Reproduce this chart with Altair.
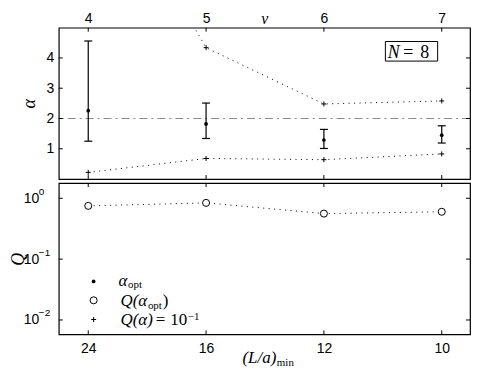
import altair as alt
import pandas as pd

# ---------------- data ----------------
nu = [4, 5, 6, 7]
L_over_a_min = [24, 16, 12, 10]
alpha_opt = [2.26, 1.82, 1.29, 1.45]
alpha_err_lo = [1.25, 1.34, 1.01, 1.19]
alpha_err_hi = [4.56, 2.51, 1.64, 1.76]
alpha_Q01_low = [0.22, 0.68, 0.64, 0.83]
alpha_Q01_high = [11.0, 4.34, 2.48, 2.58]
Q_opt = [0.75, 0.84, 0.56, 0.60]
alpha_ref = [2]
alpha_ticks = [1, 2, 3, 4]
Q_ticks = [1, 0.1, 0.01]
Q_tick_exp = ["0", "\u22121", "\u22122"]
N_value = "8"

# ---------------- styling ----------------
W, H = 413, 152
S = H / 160.0
SANS = "Liberation Sans"
SERIF = "Liberation Serif"
PLUS = "M-1,0L1,0M0,-1L0,1"
DOT = [1, 4.5]
TL = 4  # inward tick length
QPAD = 20

XS = alt.Scale(domain=[3.75, 7.24], nice=False, zero=False)
YS_A = alt.Scale(domain=[0, 5], nice=False, zero=False)
YS_Q = alt.Scale(type="log", domain=[0.0058, 1.78], nice=False)

common = dict(ticks=False, domain=False, grid=False, labelColor="black",
              labelFont=SANS, labelFontSize=14, titleColor="black")

AX_X_TOP = alt.Axis(orient="top", values=nu, format="d", labelPadding=2,
                    title="\u03bd", titleFont=SERIF, titleFontStyle="italic",
                    titleFontWeight="normal", titleFontSize=16, titleY=-4.5,
                    titleBaseline="alphabetic", **common)
label_expr = " : ".join(f"datum.value == {n} ? '{l}'" for n, l in zip(nu, L_over_a_min)) + " : ''"
AX_X_BOT = alt.Axis(orient="bottom", values=nu, labelExpr=label_expr, labelPadding=7,
                    title=None, **common)
AX_Y_A = alt.Axis(values=alpha_ticks, format="d", labelPadding=5, title="\u03b1",
                  titleFont=SERIF, titleFontStyle="italic", titleFontWeight="normal",
                  titleFontSize=18, titlePadding=8, **common)
AX_Y_Q = alt.Axis(values=Q_ticks, labelExpr="'10'", labelPadding=QPAD, title="Q",
                  titleFont=SERIF, titleFontStyle="italic", titleFontWeight="normal",
                  titleFontSize=18, titlePadding=-4, **common)

ONE = alt.Data(values=[{}])


def txt(s, x, y, size, style="normal", font=SERIF, align="left", baseline="alphabetic"):
    return alt.Chart(ONE).mark_text(text=s, font=font, fontSize=size, fontStyle=style,
                                    align=align, baseline=baseline, color="black").encode(
        x=alt.value(x), y=alt.value(y))


def xt():
    return alt.X("nu:Q", scale=XS, axis=AX_X_TOP)


def xb():
    return alt.X("nu:Q", scale=XS, axis=AX_X_BOT)


def yt(f):
    return alt.Y(f, type="quantitative", scale=YS_A, axis=AX_Y_A)


def yb(f):
    return alt.Y(f, type="quantitative", scale=YS_Q, axis=AX_Y_Q)


# ---------------- top panel ----------------
df_top = pd.DataFrame({"nu": nu, "a": alpha_opt, "lo": alpha_err_lo, "hi": alpha_err_hi,
                       "ql": alpha_Q01_low, "qh": alpha_Q01_high})
bt = alt.Chart(df_top)
df_at = pd.DataFrame({"t": alpha_ticks})

top_layers = [
    alt.Chart(pd.DataFrame({"r": alpha_ref})).mark_rule(
        color="#8a8a8a", strokeWidth=1.2, strokeDash=[8, 4, 2, 4]).encode(y=yt("r")),
    bt.mark_line(color="black", strokeWidth=1, strokeDash=DOT, clip=True).encode(x=xt(), y=yt("ql")),
    bt.mark_line(color="black", strokeWidth=1, strokeDash=DOT, clip=True).encode(x=xt(), y=yt("qh")),
    bt.mark_rule(color="black", strokeWidth=1.2).encode(x=xt(), y=yt("lo"), y2="hi"),
    bt.mark_tick(orient="horizontal", size=8, thickness=1.2, color="black", opacity=1).encode(x=xt(), y=yt("lo")),
    bt.mark_tick(orient="horizontal", size=8, thickness=1.2, color="black", opacity=1).encode(x=xt(), y=yt("hi")),
    bt.mark_point(filled=True, size=14, color="black", opacity=1).encode(x=xt(), y=yt("a")),
    bt.mark_point(shape=PLUS, size=25, filled=False, color="black", strokeWidth=1, opacity=1,
                  clip=True).encode(x=xt(), y=yt("ql")),
    bt.mark_point(shape=PLUS, size=25, filled=False, color="black", strokeWidth=1, opacity=1,
                  clip=True).encode(x=xt(), y=yt("qh")),
    bt.mark_rule(color="black", strokeWidth=1).encode(x=xt(), y=alt.value(0), y2=alt.value(TL)),
    bt.mark_rule(color="black", strokeWidth=1).encode(x=xt(), y=alt.value(H - TL), y2=alt.value(H)),
    alt.Chart(df_at).mark_rule(color="black", strokeWidth=1).encode(y=yt("t"), x=alt.value(0), x2=alt.value(TL)),
    alt.Chart(df_at).mark_rule(color="black", strokeWidth=1).encode(y=yt("t"), x=alt.value(W - TL), x2=alt.value(W)),
    alt.Chart(ONE).mark_rect(fill="white", stroke="black", strokeWidth=1).encode(
        x=alt.value(W - 85), x2=alt.value(W - 32.5), y=alt.value(14.6 * S), y2=alt.value(35.3 * S)),
    txt("N", W - 82.5, 31.8 * S, 18, style="italic"),
    txt("=", W - 67, 31.8 * S, 18),
    txt(N_value, W - 50, 31.8 * S, 18),
]
top = alt.layer(*top_layers).properties(width=W, height=H)

# ---------------- bottom panel ----------------
df_bot = pd.DataFrame({"nu": nu, "q": Q_opt})
bb = alt.Chart(df_bot)
df_qt = pd.DataFrame({"t": Q_ticks, "e": Q_tick_exp})

bot_layers = [
    bb.mark_line(color="black", strokeWidth=1, strokeDash=DOT).encode(x=xb(), y=yb("q")),
    bb.mark_point(shape="circle", filled=True, fill="white", stroke="black", strokeWidth=1,
                  size=50, opacity=1).encode(x=xb(), y=yb("q")),
    bb.mark_rule(color="black", strokeWidth=1).encode(x=xb(), y=alt.value(0), y2=alt.value(TL)),
    bb.mark_rule(color="black", strokeWidth=1).encode(x=xb(), y=alt.value(H - TL), y2=alt.value(H)),
    alt.Chart(df_qt).mark_rule(color="black", strokeWidth=1).encode(y=yb("t"), x=alt.value(0), x2=alt.value(TL)),
    alt.Chart(df_qt).mark_rule(color="black", strokeWidth=1).encode(y=yb("t"), x=alt.value(W - TL), x2=alt.value(W)),
    alt.Chart(df_qt).mark_text(align="left", baseline="alphabetic", font=SANS, fontSize=10,
                               dy=-3.5, color="black").encode(x=alt.value(-QPAD), y=yb("t"), text="e:N"),
    # legend
    alt.Chart(ONE).mark_point(filled=True, size=14, color="black", opacity=1).encode(
        x=alt.value(35), y=alt.value(104 * S)),
    alt.Chart(ONE).mark_point(shape="circle", filled=True, fill="white", stroke="black",
                              strokeWidth=1, size=50, opacity=1).encode(
        x=alt.value(35), y=alt.value(124 * S)),
    alt.Chart(ONE).mark_point(shape=PLUS, size=25, filled=False, color="black",
                              strokeWidth=1, opacity=1).encode(
        x=alt.value(35), y=alt.value(144.3 * S)),
    txt("\u03b1", 60, 108.6 * S, 17, style="italic"),
    txt("opt", 69.5, 111.5 * S, 11),
    txt("Q(\u03b1", 62, 130 * S, 17, style="italic"),
    txt("opt", 89.5, 133.5 * S, 11),
    txt(")", 104.5, 130 * S, 17),
    txt("Q(\u03b1)", 62, 150.3 * S, 17, style="italic"),
    txt("=", 97.5, 150.3 * S, 17),
    txt("10", 112, 150.3 * S, 17),
    txt("\u22121", 129.5, 144.5 * S, 11),
    # x title
    txt("(L/a)", W / 2 - 22, H + 28.5, 17, style="italic"),
    txt("min", W / 2 + 12.5, H + 32, 11),
]
bottom = alt.layer(*bot_layers).properties(width=W, height=H)

chart = alt.vconcat(top, bottom, spacing=0).properties(
    padding={"left": 0, "top": 0, "right": 2, "bottom": 0}, background="white"
).configure_view(stroke="black", strokeWidth=1.2)

chart.save("out.html", embed_options={"renderer": "svg", "actions": False})
